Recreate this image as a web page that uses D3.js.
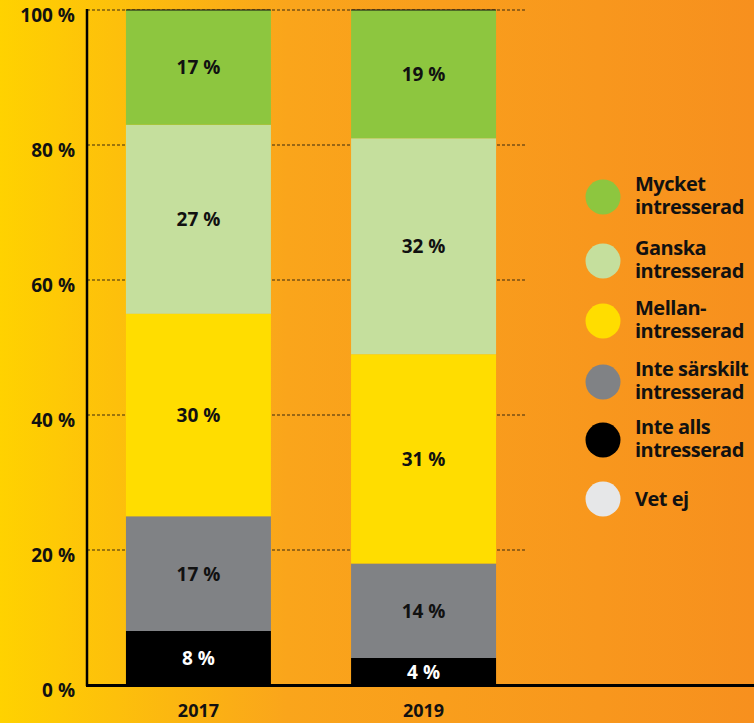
<!DOCTYPE html>
<html>
<head>
<meta charset="utf-8">
<script src="https://cdn.jsdelivr.net/npm/d3@7"></script>
<style>
  html, body { margin: 0; padding: 0; overflow: hidden; }
  svg text { font-family: "Open Sans", sans-serif; font-weight: 700; }
</style>
</head>
<body>
<svg id="chart" width="754" height="723"></svg>
<script>
// answers, bottom to top of each bar
const categories = [ "Inte alls intresserad", "Inte särskilt intresserad", "Mellanintresserad", "Ganska intresserad", "Mycket intresserad" ];
const years = [ "2017", "2019" ];
const values2017 = [ 8, 17, 30, 28, 17 ];
const values2019 = [ 4, 14, 31, 32, 19 ];
const labels2017 = [ "8 %", "17 %", "30 %", "27 %", "17 %" ];
const labels2019 = [ "4 %", "14 %", "31 %", "32 %", "19 %" ];
const yTicks = [ 0, 20, 40, 60, 80, 100 ];

// legend, top to bottom
const legendItems = [
    [ "Mycket", "intresserad" ],
    [ "Ganska", "intresserad" ],
    [ "Mellan-", "intresserad" ],
    [ "Inte särskilt", "intresserad" ],
    [ "Inte alls", "intresserad" ],
    [ "Vet ej" ]
];

const colors = [ "#000000", "#808285", "#FFDD00", "#C5DF9D", "#8DC63F" ];
const legendColors = [ "#8DC63F", "#C5DF9D", "#FFDD00", "#808285", "#000000", "#E6E7E8" ];

const svg = d3.select( "#chart" );
const W = 754, H = 723;

const defs = svg.append( "defs" );
const grad = defs.append( "linearGradient" ).attr( "id", "bg" )
    .attr( "x1", 0 ).attr( "x2", 1 ).attr( "y1", 0 ).attr( "y2", 0 );
grad.append( "stop" ).attr( "offset", 0 ).attr( "stop-color", "#FFD200" );
grad.append( "stop" ).attr( "offset", 0.38 ).attr( "stop-color", "#FAA51B" );
grad.append( "stop" ).attr( "offset", 1 ).attr( "stop-color", "#F7901E" );

svg.append( "rect" ).attr( "width", W ).attr( "height", H ).attr( "fill", "url(#bg)" );

const x = d3.scaleBand().domain( years ).range( [ 87, 535 ] )
    .paddingInner( 0.356 ).paddingOuter( 0.173 );
const y = d3.scaleLinear().domain( [ 0, 100 ] ).range( [ 685, 10 ] );

// dotted gridlines
svg.append( "g" )
    .selectAll( "line" )
    .data( yTicks.filter( d => d > 0 ) )
    .enter()
    .append( "line" )
    .attr( "x1", 87 ).attr( "x2", 526 )
    .attr( "y1", d => y( d ) ).attr( "y2", d => y( d ) )
    .attr( "stroke", "#3a2a10" )
    .attr( "stroke-width", 1.2 )
    .attr( "stroke-dasharray", "3,2" );

// y tick labels
svg.append( "g" )
    .selectAll( "text" )
    .data( yTicks )
    .enter()
    .append( "text" )
    .attr( "x", 75 )
    .attr( "y", d => y( d ) + 12 )
    .attr( "text-anchor", "end" )
    .style( "font-size", "19px" )
    .attr( "fill", "#111" )
    .text( d => d + " %" );

const series = [ values2017, values2019 ];
const seriesLabels = [ labels2017, labels2019 ];

years.forEach( ( year, i ) => {
    const vals = series[ i ];
    const stacked = d3.cumsum( vals );
    const g = svg.append( "g" );

    const segs = vals.map( ( v, j ) => ( {
        y0: stacked[ j ] - v,
        y1: stacked[ j ],
        color: colors[ j ],
        label: seriesLabels[ i ][ j ]
    } ) );

    g.selectAll( "rect" )
        .data( segs )
        .enter()
        .append( "rect" )
        .attr( "x", x( year ) )
        .attr( "width", x.bandwidth() )
        .attr( "y", d => y( d.y1 ) )
        .attr( "height", d => y( d.y0 ) - y( d.y1 ) )
        .attr( "fill", d => d.color );

    // thin line on the bar top
    g.append( "line" )
        .attr( "x1", x( year ) ).attr( "x2", x( year ) + x.bandwidth() )
        .attr( "y1", y( stacked[ stacked.length - 1 ] ) )
        .attr( "y2", y( stacked[ stacked.length - 1 ] ) )
        .attr( "stroke", "#111" ).attr( "stroke-width", 1 );

    g.selectAll( "text" )
        .data( segs )
        .enter()
        .append( "text" )
        .attr( "x", x( year ) + x.bandwidth() / 2 )
        .attr( "y", d => ( y( d.y0 ) + y( d.y1 ) ) / 2 + 7 )
        .attr( "text-anchor", "middle" )
        .style( "font-size", "19px" )
        .attr( "fill", d => d.color === "#000000" ? "#fff" : "#111" )
        .text( d => d.label );

    svg.append( "text" )
        .attr( "x", x( year ) + x.bandwidth() / 2 )
        .attr( "y", 717 )
        .attr( "text-anchor", "middle" )
        .style( "font-size", "18px" )
        .attr( "fill", "#111" )
        .text( year );
} );

// axes lines
svg.append( "line" )
    .attr( "x1", 87 ).attr( "x2", 87 )
    .attr( "y1", 9 ).attr( "y2", 686 )
    .attr( "stroke", "#000" ).attr( "stroke-width", 2.5 );
svg.append( "line" )
    .attr( "x1", 86 ).attr( "x2", W )
    .attr( "y1", 685.5 ).attr( "y2", 685.5 )
    .attr( "stroke", "#000" ).attr( "stroke-width", 3 );

// legend
const legendY = [ 197, 261, 321, 382, 440, 499 ];
const lg = svg.append( "g" )
    .selectAll( "g" )
    .data( legendItems )
    .enter()
    .append( "g" )
    .attr( "transform", ( d, i ) => `translate(603,${legendY[ i ]})` );

lg.append( "circle" )
    .attr( "r", 17.5 )
    .attr( "fill", ( d, i ) => legendColors[ i ] );

lg.each( function( d ) {
    const t = d3.select( this ).append( "text" )
        .attr( "x", 32 )
        .style( "font-size", "20px" )
        .style( "letter-spacing", "-0.5px" )
        .attr( "fill", "#111" );
    const top = d.length === 1 ? 7 : -6;
    d.forEach( ( line, k ) => {
        t.append( "tspan" )
            .attr( "x", 32 )
            .attr( "y", top + k * 23 )
            .text( line );
    } );
} );
</script>
</body>
</html>
